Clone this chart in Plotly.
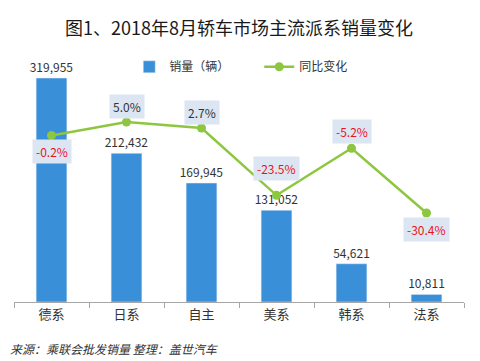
import plotly.graph_objects as go

categories = ["德系", "日系", "自主", "美系", "韩系", "法系"]
sales = [319955, 212432, 169945, 131052, 54621, 10811]
yoy = [-0.2, 5.0, 2.7, -23.5, -5.2, -30.4]

# label offsets (style only)
label_shift = [-16, 16, 15, 27, 17, -16]

FONT = "Noto Sans CJK SC"
BLUE = "#3A8FD9"
GREEN = "#8DC63F"

fig = go.Figure()
fig.add_trace(go.Bar(
    x=categories, y=sales, name="销量（辆）",
    marker=dict(color=BLUE),
    text=[f"{v:,}" for v in sales], textposition="outside",
    textfont=dict(size=12, color="#333333", family=FONT),
    constraintext="none",
    cliponaxis=False,
))
fig.add_trace(go.Scatter(
    x=categories, y=yoy, name="同比变化", yaxis="y2",
    mode="lines+markers",
    line=dict(color=GREEN, width=2.5),
    marker=dict(color=GREEN, size=9),
    cliponaxis=False,
))

annotations = []
for c, v, s in zip(categories, yoy, label_shift):
    annotations.append(dict(
        x=c, y=v, xref="x", yref="y2", yshift=s,
        text=f"{v:.1f}%", showarrow=False,
        font=dict(size=12, color="#E8141C" if v < 0 else "#333333", family=FONT),
        bgcolor="#DCE6F2", borderpad=3,
    ))
annotations.append(dict(
    x=0.5, y=1, xref="paper", yref="paper", xanchor="center", yanchor="bottom",
    yshift=15, text="图1、2018年8月轿车市场主流派系销量变化", showarrow=False,
    font=dict(size=18, color="#1a1a1a", family=FONT),
))
annotations.append(dict(
    x=0, y=0, xref="paper", yref="paper", xanchor="left", yanchor="top",
    xshift=-6, yshift=-36, text="<i>来源：乘联会批发销量 整理：盖世汽车</i>", showarrow=False,
    font=dict(size=12, color="#333333", family=FONT),
))

fig.update_layout(
    width=480, height=361,
    margin=dict(l=6, r=24, t=49, b=67),
    paper_bgcolor="white", plot_bgcolor="white",
    font=dict(family=FONT, color="#333333"),
    bargap=0.59,
    showlegend=True,
    legend=dict(orientation="h", x=0.545, xanchor="center", y=0.96, yanchor="middle",
                font=dict(size=12, color="#333333", family=FONT),
                itemwidth=30, entrywidth=85, bgcolor="rgba(0,0,0,0)"),
    xaxis=dict(type="category", showline=True, linecolor="#A6A6A6", linewidth=1,
               ticks="outside", tickson="boundaries", ticklen=5, tickcolor="#A6A6A6",
               tickfont=dict(size=13, color="#333333", family=FONT), showgrid=False),
    yaxis=dict(range=[0, 350000], visible=False, showgrid=False),
    yaxis2=dict(range=[-65, 30.3], overlaying="y", visible=False, showgrid=False),
    annotations=annotations,
)

fig.write_html("out.html")
